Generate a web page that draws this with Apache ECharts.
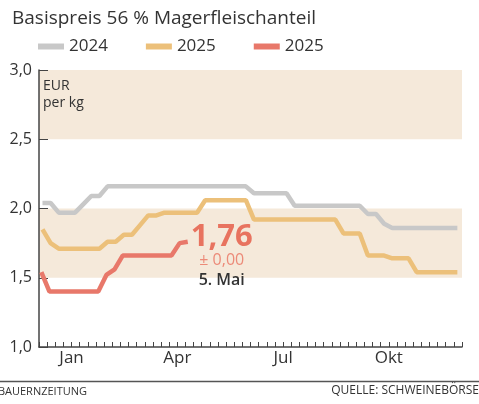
<!DOCTYPE html>
<html>
<head>
<meta charset="utf-8">
<script src="https://cdn.jsdelivr.net/npm/echarts@6/dist/echarts.min.js"></script>
<style>
  html, body { margin: 0; padding: 0; background: #fff; }
  #chart { width: 479px; height: 404px; }
</style>
</head>
<body>
<div id="chart"></div>
<script>
  // weekly notations, x = day of year
  const firstDay2024 = 3
  const firstDay2025b = 3
  const firstDay2025 = 2

  const price2024 = [
    2.04, 2.04, 1.97, 1.97, 1.97, 2.03, 2.09, 2.09,
    2.16, 2.16, 2.16, 2.16, 2.16, 2.16, 2.16, 2.16, 2.16,
    2.16, 2.16, 2.16, 2.16, 2.16, 2.16, 2.16, 2.16, 2.16,
    2.11, 2.11, 2.11, 2.11, 2.11,
    2.02, 2.02, 2.02, 2.02, 2.02, 2.02, 2.02, 2.02, 2.02,
    1.96, 1.96, 1.89,
    1.86, 1.86, 1.86, 1.86, 1.86, 1.86, 1.86, 1.86, 1.86
  ]
  const price2025b = [
    1.85, 1.75, 1.71, 1.71, 1.71, 1.71, 1.71, 1.71,
    1.76, 1.76, 1.81, 1.81, 1.88, 1.95, 1.95,
    1.97, 1.97, 1.97, 1.97, 1.97,
    2.06, 2.06, 2.06, 2.06, 2.06, 2.06,
    1.92, 1.92, 1.92, 1.92, 1.92, 1.92, 1.92, 1.92, 1.92, 1.92, 1.92,
    1.82, 1.82, 1.82,
    1.66, 1.66, 1.66,
    1.64, 1.64, 1.64,
    1.54, 1.54, 1.54, 1.54, 1.54, 1.54
  ]
  const price2025 = [
    1.54, 1.40, 1.40, 1.40, 1.40, 1.40, 1.40, 1.40,
    1.52, 1.56,
    1.66, 1.66, 1.66, 1.66, 1.66, 1.66, 1.66,
    1.75, 1.76
  ]

  const seriesKeys = ['s2024', 's2025b', 's2025']
  const legendLabels = ['2024', '2025', '2025']
  const monthLabels = {28: 'Jan', 119: 'Apr', 210: 'Jul', 301: 'Okt'}
  const lastLabel = '1,76'
  const changeLabel = '± 0,00'
  const dateLabel = '5. Mai'

  const FONT = 'Open Sans'
  const TXT = '#333'

  function toPoints(firstDay, values) {
    return values.map((v, i) => [firstDay + i * 7, v])
  }

  const chart = echarts.init(document.getElementById('chart'))

  function lineSeries(name, color, data) {
    return {
      name: name,
      type: 'line',
      data: data,
      showSymbol: false,
      symbol: 'none',
      color: color,
      itemStyle: {color: color},
      lineStyle: {color: color, width: 4.5, cap: 'butt'},
      animation: false
    }
  }

  chart.setOption({
    animation: false,
    title: {
      text: 'Basispreis 56 % Magerfleischanteil',
      left: 7,
      top: 4,
      textStyle: {fontFamily: FONT, fontSize: 19, fontWeight: 'normal', color: TXT}
    },
    legend: {
      left: 38,
      top: 38,
      padding: 0,
      itemWidth: 26,
      itemHeight: 6,
      itemGap: 38,
      icon: 'rect',
      data: seriesKeys,
      formatter: name => legendLabels[seriesKeys.indexOf(name)],
      textStyle: {fontFamily: FONT, fontSize: 17, color: TXT}
    },
    grid: {left: 39, right: 17, top: 70, bottom: 57},
    xAxis: {
      type: 'value',
      min: 0,
      max: 364,
      interval: 7,
      splitLine: {show: false},
      axisLine: {lineStyle: {color: '#444', width: 1.5}},
      axisTick: {inside: true, length: 5, lineStyle: {color: '#444'}},
      axisLabel: {
        margin: 3,
        fontFamily: FONT,
        fontSize: 17,
        color: TXT,
        formatter: v => monthLabels[v] || ''
      }
    },
    yAxis: {
      type: 'value',
      min: 1,
      max: 3,
      interval: 0.5,
      splitLine: {show: false},
      splitArea: {show: true, areaStyle: {color: ['rgba(0,0,0,0)', '#f5e9da']}},
      axisLine: {show: true, lineStyle: {color: '#444', width: 1.5}},
      axisTick: {show: true, inside: true, length: 9, lineStyle: {color: '#444'}},
      axisLabel: {
        margin: 7,
        fontFamily: FONT,
        fontSize: 16,
        color: TXT,
        formatter: v => v.toFixed(1).replace('.', ',')
      }
    },
    series: [
      lineSeries(seriesKeys[0], '#c8c8c8', toPoints(firstDay2024, price2024)),
      lineSeries(seriesKeys[1], '#ecc07a', toPoints(firstDay2025b, price2025b)),
      lineSeries(seriesKeys[2], '#e8786a', toPoints(firstDay2025, price2025))
    ]
  })

  // Beschriftung am letzten Punkt
  const lastIdx = price2025.length - 1
  const lastPt = chart.convertToPixel({seriesIndex: 2}, [firstDay2025 + lastIdx * 7, price2025[lastIdx]])

  chart.setOption({
    graphic: [
      {
        type: 'text',
        left: 43,
        top: 78,
        style: {text: 'EUR\nper kg', fontFamily: FONT, fontSize: 14, lineHeight: 17, fill: TXT}
      },
      {
        type: 'text',
        x: lastPt[0] + 34,
        y: lastPt[1] - 19,
        style: {
          text: '{a|' + lastLabel + '}\n{b|' + changeLabel + '}\n{c|' + dateLabel + '}',
          align: 'center',
          rich: {
            a: {fontFamily: FONT, fontSize: 31, fontWeight: 'bold', fill: '#e8735f', lineHeight: 28},
            b: {fontFamily: FONT, fontSize: 16, fill: '#ec8a78', lineHeight: 20},
            c: {fontFamily: FONT, fontSize: 16, fontWeight: 600, fill: TXT, lineHeight: 20}
          }
        }
      },
      {
        type: 'line',
        shape: {x1: 0, y1: 381.5, x2: 479, y2: 381.5},
        style: {stroke: '#555', lineWidth: 1.5}
      },
      {
        type: 'text',
        x: 87,
        y: 386,
        style: {text: 'BAUERNZEITUNG', align: 'right', fontFamily: FONT, fontSize: 11, fill: TXT}
      },
      {
        type: 'text',
        right: 0,
        top: 385,
        style: {text: 'QUELLE: SCHWEINEBÖRSE', fontFamily: FONT, fontSize: 12, fill: TXT}
      }
    ]
  })
</script>
</body>
</html>
